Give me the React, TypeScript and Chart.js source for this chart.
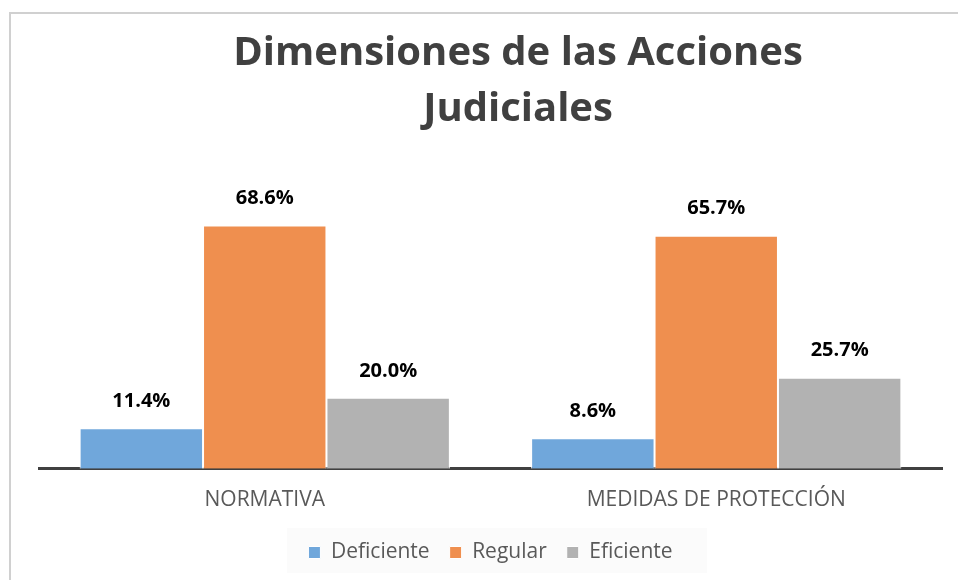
import React, { useEffect, useRef } from "react";
import { Chart, registerables } from "chart.js";

Chart.register(...registerables);

const TITLE_LINES = ["Dimensiones de las Acciones", "Judiciales"];
const CATEGORIES = ["NORMATIVA", "MEDIDAS DE PROTECCIÓN"];
const SERIES_NAMES = ["Deficiente", "Regular", "Eficiente"];
const DEFICIENTE = [11.4, 8.6];
const REGULAR = [68.6, 65.7];
const EFICIENTE = [20.0, 25.7];
const COLORS = ["#70A7DB", "#EF8F4F", "#B2B2B2"];

const FONT = "'Open Sans', 'Noto Sans', sans-serif";

const framePlugin = {
  id: "frame",
  beforeDraw(chart: any) {
    const ctx = chart.ctx;
    ctx.save();
    ctx.fillStyle = "#ffffff";
    ctx.fillRect(0, 0, chart.width, chart.height);
    ctx.fillStyle = "#FBFBFB";
    ctx.fillRect(287, 528, 420, 45);
    ctx.strokeStyle = "#D0D0D0";
    ctx.lineWidth = 2;
    ctx.beginPath();
    ctx.moveTo(10, chart.height);
    ctx.lineTo(10, 13);
    ctx.lineTo(chart.width, 13);
    ctx.stroke();
    ctx.restore();
  },
};

const titlePlugin = {
  id: "twoLineTitle",
  afterDraw(chart: any) {
    const ctx = chart.ctx;
    ctx.save();
    ctx.font = `bold 40px ${FONT}`;
    ctx.fillStyle = "#404040";
    ctx.textAlign = "center";
    ctx.textBaseline = "middle";
    TITLE_LINES.forEach((line, i) => {
      ctx.fillText(line, 518, 54 + i * 56);
    });
    ctx.restore();
  },
};

const valueLabelPlugin = {
  id: "valueLabels",
  afterDatasetsDraw(chart: any) {
    const ctx = chart.ctx;
    ctx.save();
    ctx.font = `bold 20px ${FONT}`;
    ctx.fillStyle = "#000000";
    ctx.textAlign = "center";
    ctx.textBaseline = "middle";
    chart.data.datasets.forEach((ds: any, di: number) => {
      const meta = chart.getDatasetMeta(di);
      meta.data.forEach((bar: any, i: number) => {
        const v = ds.data[i];
        ctx.fillText(v.toFixed(1) + "%", bar.x, bar.y - 27);
      });
    });
    ctx.restore();
  },
};

export default function App() {
  const canvasRef = useRef<HTMLCanvasElement | null>(null);

  useEffect(() => {
    if (!canvasRef.current) return;
    const seriesData = [DEFICIENTE, REGULAR, EFICIENTE];
    const chart = new Chart(canvasRef.current, {
      type: "bar",
      data: {
        labels: CATEGORIES,
        datasets: SERIES_NAMES.map((name, i) => ({
          label: name,
          data: seriesData[i],
          backgroundColor: COLORS[i],
          borderColor: "#ffffff",
          borderWidth: 1,
          categoryPercentage: 0.82,
          barPercentage: 1.0,
        })),
      },
      options: {
        responsive: false,
        animation: false,
        layout: { padding: { left: 39, right: 16, top: 185, bottom: 7 } },
        scales: {
          x: {
            grid: { display: false, drawTicks: false },
            border: { display: true, color: "#404040", width: 3 },
            ticks: {
              color: "#595959",
              font: { family: FONT, size: 21 },
              padding: 19,
            },
            afterFit: (scale: any) => {
              scale.height -= 10;
            },
          },
          y: {
            display: false,
            min: 0,
            max: 80,
          },
        },
        plugins: {
          title: { display: false },
          tooltip: { enabled: false },
          legend: {
            position: "bottom",
            labels: {
              color: "#595959",
              font: { family: FONT, size: 21 },
              boxWidth: 12,
              boxHeight: 12,
              padding: 20,
            },
          },
        },
      },
      plugins: [framePlugin, titlePlugin, valueLabelPlugin],
    });
    return () => chart.destroy();
  }, []);

  return (
    <div style={{ position: "fixed", left: 0, top: 0, width: 958, height: 580, background: "#fff" }}>
      <canvas ref={canvasRef} width={958} height={580} />
    </div>
  );
}
